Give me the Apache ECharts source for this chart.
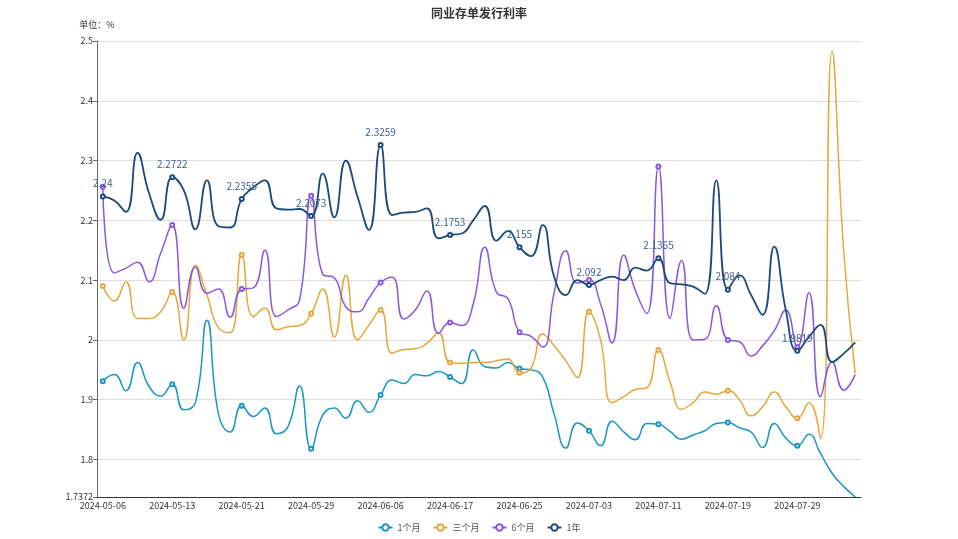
<!DOCTYPE html>
<html><head><meta charset="utf-8">
<script src="https://cdn.jsdelivr.net/npm/echarts@6/dist/echarts.min.js"></script>
<style>html,body{margin:0;padding:0;background:#fff}#c{width:958px;height:539px}</style>
</head><body><div id="c"></div>
<script>
const dates = ['2024-05-06','2024-05-07','2024-05-08','2024-05-09','2024-05-10','2024-05-11','2024-05-13','2024-05-14','2024-05-15','2024-05-16','2024-05-17','2024-05-20','2024-05-21','2024-05-22','2024-05-23','2024-05-24','2024-05-27','2024-05-28','2024-05-29','2024-05-30','2024-05-31','2024-06-03','2024-06-04','2024-06-05','2024-06-06','2024-06-07','2024-06-11','2024-06-12','2024-06-13','2024-06-14','2024-06-17','2024-06-18','2024-06-19','2024-06-20','2024-06-21','2024-06-24','2024-06-25','2024-06-26','2024-06-27','2024-06-28','2024-07-01','2024-07-02','2024-07-03','2024-07-04','2024-07-05','2024-07-08','2024-07-09','2024-07-10','2024-07-11','2024-07-12','2024-07-15','2024-07-16','2024-07-17','2024-07-18','2024-07-19','2024-07-22','2024-07-23','2024-07-24','2024-07-25','2024-07-26','2024-07-29','2024-07-30','2024-07-31','2024-08-01','2024-08-02','2024-08-05'];
const seriesNames = ['1个月','三个月','6个月','1年'];
const rate1M = [1.931,1.942,1.915,1.962,1.922,1.906,1.926,1.883,1.895,2.033,1.875,1.846,1.89,1.872,1.886,1.843,1.855,1.923,1.818,1.874,1.886,1.869,1.898,1.879,1.908,1.933,1.927,1.942,1.94,1.947,1.938,1.927,1.983,1.955,1.953,1.962,1.952,1.95,1.938,1.875,1.819,1.861,1.848,1.823,1.864,1.846,1.833,1.86,1.859,1.847,1.834,1.841,1.848,1.86,1.862,1.853,1.846,1.82,1.86,1.836,1.823,1.842,1.81,1.777,1.755,1.7372];
const rate3M = [2.09,2.065,2.097,2.036,2.036,2.047,2.08,2.0,2.125,2.075,2.02,2.012,2.142,2.039,2.053,2.017,2.022,2.024,2.044,2.085,2.005,2.108,2.0,2.025,2.05,1.978,1.984,1.985,1.994,2.012,1.962,1.961,1.962,1.962,1.965,1.968,1.945,1.953,2.01,1.99,1.965,1.937,2.047,2.0,1.895,1.905,1.917,1.92,1.983,1.93,1.884,1.895,1.913,1.909,1.915,1.9,1.873,1.888,1.913,1.888,1.869,1.895,1.835,2.483,2.15,1.944];
const rate6M = [2.256,2.112,2.12,2.13,2.097,2.145,2.192,2.053,2.122,2.078,2.085,2.038,2.085,2.087,2.15,2.039,2.05,2.067,2.241,2.11,2.104,2.055,2.047,2.07,2.096,2.105,2.035,2.05,2.082,2.011,2.029,2.024,2.06,2.155,2.08,2.069,2.013,2.006,1.988,2.08,2.149,2.095,2.1,2.06,1.995,2.142,2.083,2.044,2.29,2.036,2.133,2.0,2.001,2.057,2.0,1.997,1.973,1.99,2.015,2.05,1.988,2.079,1.905,1.963,1.916,1.942];
const rate1Y = [2.24,2.233,2.214,2.313,2.245,2.201,2.2722,2.25,2.185,2.267,2.19,2.188,2.2355,2.255,2.267,2.22,2.218,2.219,2.2073,2.278,2.205,2.30,2.24,2.184,2.3259,2.209,2.213,2.214,2.22,2.17,2.1753,2.178,2.20,2.224,2.166,2.182,2.155,2.14,2.192,2.105,2.075,2.10,2.092,2.10,2.106,2.10,2.121,2.116,2.1365,2.095,2.093,2.089,2.077,2.267,2.084,2.108,2.075,2.042,2.156,2.05,1.9819,2.005,2.025,1.963,1.977,1.996];

const colors = ['#1a96c6','#e5a73b','#8b57e0','#1c4a7a'];
const FONT = '"Noto Sans CJK SC", "Noto Sans", sans-serif';
const allData = [rate1M, rate3M, rate6M, rate1Y];

const chart = echarts.init(document.getElementById('c'), null, {renderer:'canvas'});
chart.setOption({
  animation: false,
  color: colors,
  textStyle: {fontFamily: FONT},
  title: {text: '同业存单发行利率', left: 'center', top: 2,
    textStyle: {fontSize: 12, fontWeight: 'bold', color: '#333', fontFamily: FONT}},
  legend: {bottom: 2, itemWidth: 14, itemHeight: 8, itemGap: 12,
    textStyle: {fontSize: 9, color: '#555'}, data: seriesNames},
  grid: {left: 97, right: 97, top: 41, bottom: 42, containLabel: false},
  xAxis: {type: 'category', data: dates, boundaryGap: true,
    axisLine: {lineStyle: {color: '#333'}},
    axisTick: {interval: 5, lineStyle: {color: '#333'}},
    axisLabel: {interval: 5, fontSize: 9, color: '#333', margin: 4}},
  yAxis: {type: 'value', min: 'dataMin', max: 2.5, splitNumber: 8,
    name: '单位：%', nameGap: 12, nameTextStyle: {fontSize: 9, color: '#333'},
    axisLine: {show: true, lineStyle: {color: '#666'}},
    axisTick: {show: true, length: 4, lineStyle: {color: '#666'}},
    axisLabel: {fontSize: 9, color: '#333', margin: 4},
    splitLine: {lineStyle: {color: '#ddd'}}},
  series: seriesNames.map((n, k) => ({
    name: n, type: 'line', smooth: true, data: allData[k],
    showAllSymbol: false, symbol: 'emptyCircle', symbolSize: 4,
    itemStyle: {borderWidth: 1},
    lineStyle: {width: k === 3 ? 1.8 : 1.5},
    label: {show: k === 3, position: 'top', fontSize: 10, color: '#3f6089'}
  }))
});
</script></body></html>
